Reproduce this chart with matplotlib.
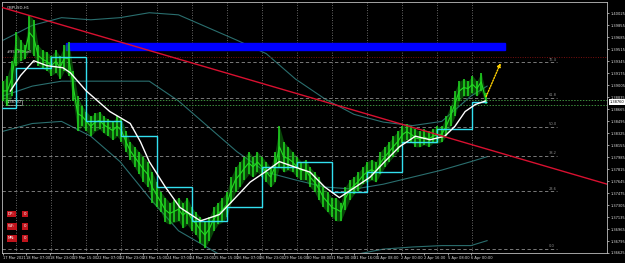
import matplotlib
matplotlib.use("Agg")
import matplotlib.pyplot as plt
from matplotlib.patches import Rectangle

# GBPUSD H1, bar 0 = 17 Mar 2021 15:00, one sample every 3 bars
step = 3
highs = [1.3906, 1.3914, 1.3935, 1.3975, 1.3964, 1.3957, 1.4000, 1.3993, 1.3957, 1.3950,
         1.3947, 1.3942, 1.3950, 1.3942, 1.3957, 1.3961, 1.3921, 1.3885, 1.3871, 1.3863,
         1.3856, 1.3861, 1.3863, 1.3856, 1.3852, 1.3849, 1.3856, 1.3852, 1.3835, 1.3820,
         1.3813, 1.3806, 1.3799, 1.3792, 1.3777, 1.3763, 1.3749, 1.3741, 1.3734, 1.3737,
         1.3741, 1.3734, 1.3741, 1.3727, 1.3720, 1.3713, 1.3706, 1.3713, 1.3727, 1.3734,
         1.3741, 1.3749, 1.3770, 1.3784, 1.3792, 1.3799, 1.3806, 1.3799, 1.3806, 1.3799,
         1.3792, 1.3784, 1.3806, 1.3842, 1.3820, 1.3813, 1.3806, 1.3799, 1.3792, 1.3795,
         1.3784, 1.3777, 1.3770, 1.3756, 1.3749, 1.3741, 1.3741, 1.3734, 1.3756, 1.3766,
         1.3770, 1.3777, 1.3784, 1.3792, 1.3795, 1.3792, 1.3806, 1.3813, 1.3820, 1.3828,
         1.3835, 1.3842, 1.3846, 1.3842, 1.3838, 1.3835, 1.3838, 1.3835, 1.3838, 1.3842,
         1.3842, 1.3856, 1.3871, 1.3892, 1.3906, 1.3909, 1.3906, 1.3914, 1.3906, 1.3918,
         1.3889]
lows = [1.3878, 1.3871, 1.3885, 1.3928, 1.3935, 1.3938, 1.3950, 1.3942, 1.3928, 1.3924,
        1.3921, 1.3914, 1.3918, 1.3909, 1.3921, 1.3914, 1.3878, 1.3835, 1.3842, 1.3835,
        1.3828, 1.3835, 1.3838, 1.3832, 1.3828, 1.3823, 1.3828, 1.3820, 1.3806, 1.3795,
        1.3784, 1.3774, 1.3763, 1.3756, 1.3734, 1.3727, 1.3720, 1.3706, 1.3703, 1.3706,
        1.3708, 1.3698, 1.3703, 1.3694, 1.3688, 1.3677, 1.3670, 1.3680, 1.3694, 1.3703,
        1.3706, 1.3713, 1.3734, 1.3749, 1.3756, 1.3766, 1.3774, 1.3770, 1.3777, 1.3770,
        1.3763, 1.3756, 1.3763, 1.3784, 1.3777, 1.3780, 1.3777, 1.3770, 1.3766, 1.3766,
        1.3756, 1.3749, 1.3737, 1.3727, 1.3720, 1.3713, 1.3708, 1.3708, 1.3723, 1.3737,
        1.3746, 1.3751, 1.3760, 1.3763, 1.3766, 1.3763, 1.3774, 1.3784, 1.3792, 1.3799,
        1.3806, 1.3818, 1.3823, 1.3820, 1.3813, 1.3813, 1.3816, 1.3813, 1.3818, 1.3818,
        1.3820, 1.3828, 1.3842, 1.3856, 1.3878, 1.3885, 1.3885, 1.3889, 1.3885, 1.3892,
        1.3873]

# daily step line (cyan), value per day
day_edges = [-1, 9, 33, 57, 81, 105, 129, 153, 177, 201, 225, 249, 273, 297, 321, 331]
day_level = [1.3868, 1.3925, 1.3940, 1.3849, 1.3828, 1.3756, 1.3708, 1.3727,
             1.3784, 1.3792, 1.3749, 1.3777, 1.3820, 1.3838, 1.3876]

# white moving average
ma_bar = [5, 12, 21, 30, 41, 46, 57, 73, 87, 94, 100, 111, 121, 135, 148, 159, 169,
          179, 189, 200, 210, 220, 230, 241, 251, 261, 271, 282, 292, 302, 309, 316, 323, 330]
ma_val = [1.3892, 1.3914, 1.3935, 1.3928, 1.3925, 1.3918, 1.3892, 1.3863, 1.3846, 1.3820,
          1.3792, 1.3756, 1.3727, 1.3708, 1.3717, 1.3741, 1.3763, 1.3777, 1.3792, 1.3784,
          1.3777, 1.3756, 1.3741, 1.3756, 1.3770, 1.3792, 1.3813, 1.3828, 1.3823, 1.3828,
          1.3842, 1.3863, 1.3873, 1.3878]

# envelope bands (dark teal)
band_bar = [0, 20, 40, 60, 80, 100, 120, 140, 160, 180, 200, 220, 240, 260, 280, 300, 320, 331]
band_up = [1.3964, 1.3985, 1.3996, 1.3993, 1.3996, 1.4003, 1.4000, 1.3982, 1.3964, 1.3945,
           1.3909, 1.3881, 1.3859, 1.3848, 1.3843, 1.3849, 1.3885, 1.3899]
band_mid = [1.3885, 1.3899, 1.3906, 1.3906, 1.3906, 1.3906, 1.3878, 1.3842, 1.3806, 1.3777,
            1.3766, 1.3756, 1.3753, 1.3760, 1.3770, 1.3780, 1.3792, 1.3799]
band_lo = [1.3835, 1.3846, 1.3849, 1.3828, 1.3792, 1.3741, 1.3694, 1.3670, 1.3646, 1.3634,
           1.3637, 1.3646, 1.3660, 1.3668, 1.3671, 1.3673, 1.3673, 1.3680]

# fibonacci retracement
fib_low = 1.36682
fib_high = 1.40141
fib_levels = [0.0, 23.6, 38.2, 50.0, 61.8, 76.4]
fib_end = 379

zone_bar = [43, 343]
zone_price = [1.3950, 1.3960]
trend_pts = [(-2.0, 1.40112), (413.0, 1.37601)]
arrow_from = (329.6, 1.38806)
arrow_to = (341.0, 1.39352)
resist_line = 1.3940
green_lines = [1.3879, 1.3872]
current = 1.38760

price_ticks = [1.36625, 1.36795, 1.36965, 1.37135, 1.37305, 1.37475, 1.37645, 1.37815,
               1.37985, 1.38155, 1.38325, 1.38495, 1.38665, 1.38835, 1.39005, 1.39175,
               1.39345, 1.39515, 1.39685, 1.39855, 1.40025]
time_labels = ["17 Mar 2021", "18 Mar 07:00", "18 Mar 23:00", "19 Mar 15:00", "22 Mar 07:00",
               "22 Mar 23:00", "23 Mar 15:00", "24 Mar 07:00", "24 Mar 23:00", "25 Mar 15:00",
               "26 Mar 07:00", "26 Mar 23:00", "29 Mar 16:00", "30 Mar 08:00", "31 Mar 00:00",
               "31 Mar 16:00", "1 Apr 08:00", "2 Apr 00:00", "2 Apr 16:00", "5 Apr 08:00",
               "6 Apr 00:00"]

fig = plt.figure(figsize=(6.25, 2.63), dpi=100, facecolor="black")
ax = fig.add_axes([2 / 625, 10 / 263, 605 / 625, 251 / 263])
ax.set_facecolor("black")
ax.set_xlim(-0.7, 413)
ax.set_ylim(1.36625, 1.40182)

# day separators
for b in day_edges[1:-1]:
    ax.axvline(b, color="#8a8a8a", lw=0.6, ls=(0, (1, 2)), zorder=1)

# bands
ax.plot(band_bar, band_up, color="#2a6e6e", lw=0.8, zorder=2)
ax.plot(band_bar, band_mid, color="#2a6e6e", lw=0.8, zorder=2)
ax.plot(band_bar, band_lo, color="#2a6e6e", lw=0.8, zorder=2)

# fibo
rng = fib_high - fib_low
for lv in fib_levels:
    p = fib_low + rng * lv / 100
    ax.plot([-1, fib_end], [p, p], color="#8c8c8c", lw=0.6, ls=(0, (4, 3)), zorder=2)
    ax.text(fib_end - 6, p + 0.00012, f"{lv:.1f}", color="#8c8c8c", fontsize=2.6,
            ha="left", va="bottom")

ax.axhline(resist_line, color="#7a1010", lw=0.7, ls=(0, (1, 1.5)), zorder=2)
for g in green_lines:
    ax.axhline(g, color="#3c8c3c", lw=0.7, ls=(0, (1.5, 1.5)), zorder=2)

# blue zone
ax.add_patch(Rectangle((zone_bar[0], zone_price[0]), zone_bar[1] - zone_bar[0],
                       zone_price[1] - zone_price[0], color="#0000ff", zorder=3))

# price bars
xs = [i * step for i in range(len(highs))]
ax.vlines(xs, lows, highs, color="#22dd22", lw=1.1, zorder=4)
mids = [(h + l) / 2 for h, l in zip(highs, lows)]
ax.plot(xs, mids, color="#22dd22", lw=0.8, zorder=4)
ax.fill_between(xs, lows, highs, color="#139a13", lw=0, alpha=0.45, zorder=3)

# daily cyan steps and white MA
ax.stairs(day_level, day_edges, color="#33e0f0", lw=1.0, zorder=5, baseline=None)
ax.plot(ma_bar, ma_val, color="white", lw=1.0, zorder=6)

# trendline
ax.axline(trend_pts[0], trend_pts[1], color="#d81030", lw=1.0, zorder=6)

# arrow
ax.annotate("", xy=arrow_to, xytext=arrow_from,
            arrowprops=dict(arrowstyle="-|>", color="#ffd000", lw=1.0, ls=(0, (1, 1)),
                            mutation_scale=5), zorder=7)

# axes styling
for s in ax.spines.values():
    s.set_color("#bdbdbd")
    s.set_linewidth(0.6)
ax.yaxis.tick_right()
ax.set_yticks(price_ticks)
ax.set_yticklabels([f"{t:.5f}" for t in price_ticks])
ax.set_xticks([16 * i for i in range(len(time_labels))])
ax.set_xticklabels(time_labels, ha="left")
ax.tick_params(colors="#dcdcdc", labelsize=2.6, length=1.5, width=0.5, pad=1.0)

# current price label
ax.text(1.004, (current - 1.36625) / (1.40182 - 1.36625), f"{current:.5f}",
        transform=ax.transAxes, fontsize=2.6, color="black", va="center", ha="left",
        bbox=dict(boxstyle="square,pad=0.25", fc="white", ec="none"))

# top-left labels
ax.text(0.008, 0.985, "GBPUSD,H1", transform=ax.transAxes, color="#e0e0e0",
        fontsize=2.8, va="top")
ax.text(0.008, 0.80, "#950360 sell", transform=ax.transAxes, color="#e0e0e0",
        fontsize=2.6, va="center")
ax.text(0.008, 0.60, "1.38760", transform=ax.transAxes, color="#e0e0e0",
        fontsize=2.6, va="center",
        bbox=dict(boxstyle="square,pad=0.2", fc="none", ec="#cfcfcf", lw=0.4))

# info boxes bottom left
for k, name in enumerate(["DP:", "WF:", "MN:"]):
    yy = 0.155 - k * 0.048
    ax.text(0.010, yy, name, transform=ax.transAxes, color="white", fontsize=2.8,
            va="center", bbox=dict(boxstyle="square,pad=0.35", fc="#c0141c", ec="none"))
    ax.text(0.036, yy, "0", transform=ax.transAxes, color="white", fontsize=2.8,
            va="center", bbox=dict(boxstyle="square,pad=0.35", fc="#c0141c", ec="none"))

fig.savefig("out.png", dpi=100, facecolor="black")
